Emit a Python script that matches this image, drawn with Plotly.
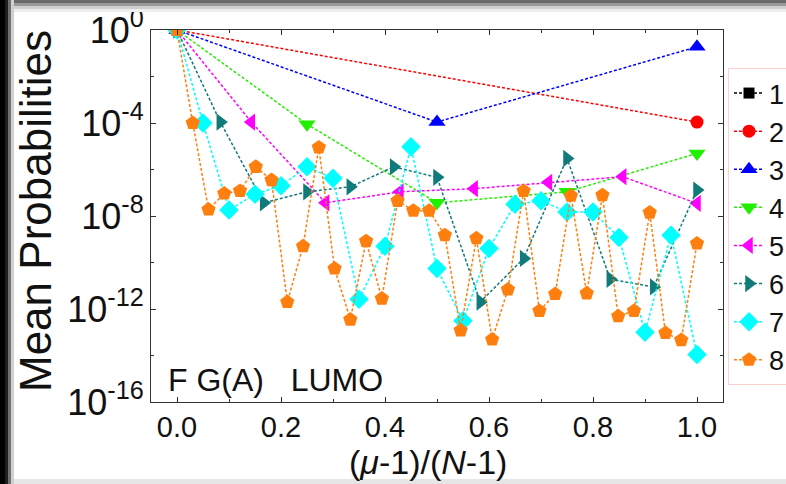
import plotly.graph_objects as go

# ---------------- data ----------------
series_names = ["1", "2", "3", "4", "5", "6", "7", "8"]

p1 = [1.0]
p2 = [1.0, 1.1e-4]
p3 = [1.0, 1.1e-4, 0.19]
p4 = [1.0, 8.9e-5, 3.7e-8, 1.1e-7, 4.9e-6]
p5 = [1.0, 1.1e-4, 3.7e-8, 1.1e-7, 1.5e-7, 2.8e-7, 4.9e-7, 3.5e-8]
p6 = [1.0, 1.1e-4, 3.7e-8, 1.1e-7, 1.8e-7, 1.3e-6, 4.6e-7, 2.0e-12,
      1.5e-10, 3.0e-6, 1.9e-11, 8.9e-12, 1.3e-7]
p7 = [1.0, 1.0e-4, 1.8e-8, 8.7e-8, 2.0e-7, 1.3e-6, 4.2e-7, 2.6e-12,
      5.0e-10, 9.5e-6, 5.5e-11, 3.1e-13, 4.0e-10, 3.2e-8, 4.5e-8,
      1.5e-8, 1.5e-8, 1.2e-9, 1.0e-13, 1.5e-9, 1.1e-14]
p8 = [1.0, 1.0e-4, 1.9e-8, 9.3e-8, 1.2e-7, 1.3e-6, 3.5e-7, 2.0e-12,
      5.0e-10, 8.9e-6, 5.5e-11, 3.5e-13, 8.3e-10, 2.8e-12, 4.5e-8,
      1.7e-8, 1.7e-8, 1.5e-9, 1.2e-13, 1.1e-9, 4.9e-14, 6.9e-12,
      1.2e-7, 8.3e-13, 4.4e-12, 7.4e-8, 4.7e-12, 7.9e-8, 4.9e-13,
      8.3e-13, 1.4e-8, 9.3e-14, 4.6e-14, 6.6e-10]

series_values = [p1, p2, p3, p4, p5, p6, p7, p8]

ytick_vals = [1e-16, 1e-12, 1e-8, 1e-4, 1]
ytick_text = ["10<sup>-16</sup>", "10<sup>-12</sup>", "10<sup>-8</sup>",
              "10<sup>-4</sup>", "10<sup>0</sup>"]
yminor_vals = [1e-14, 1e-10, 1e-6, 1e-2]
xtick_vals = [0, 0.2, 0.4, 0.6, 0.8, 1.0]
xtick_text = ["0.0", "0.2", "0.4", "0.6", "0.8", "1.0"]
xminor_vals = [0.1, 0.3, 0.5, 0.7, 0.9]

# ---------------- styles ----------------
colors = ["#000000", "#ff0000", "#0000ff", "#22ee00", "#ff00ff",
          "#117a7a", "#00ffff", "#ff7f0e"]
symbols = ["square", "circle", "triangle-up", "triangle-down",
           "triangle-left", "triangle-right", "diamond", "pentagon"]
msizes = [11, 13, 15, 15, 15, 15, 15, 15]

FONT = "Liberation Sans, Arial, sans-serif"

fig = go.Figure()
for name, vals, c, s, ms in zip(series_names, series_values, colors, symbols, msizes):
    n = len(vals)
    mu = list(range(1, n + 1))
    xs = [(m - 1) / (n - 1) if n > 1 else 0.0 for m in mu]
    fig.add_trace(go.Scatter(
        x=xs, y=vals, name=name, mode="lines+markers",
        line=dict(color=c, width=1.5, dash="3px,2px"),
        marker=dict(symbol=s, size=ms, color=c, line=dict(width=0)),
        legendgroup=name,
    ))

L, R, T, B = 151, 63, 30, 82
W, H = 786, 484
pw, ph = W - L - R, H - T - B


def px2x(px):
    return (px - L) / pw


def py2y(py):
    return (H - B - py) / ph


axis_common = dict(
    showline=True, linecolor="#333333", linewidth=1.2, mirror="allticks",
    ticks="inside", ticklen=5, tickwidth=1, tickcolor="#333333",
    showgrid=False, zeroline=False, automargin=False,
)

fig.update_xaxes(
    range=[-0.05, 1.05], tickvals=xtick_vals, ticktext=xtick_text,
    tickfont=dict(family=FONT, size=29, color="#111111"),
    ticklabelstandoff=-1,
    minor=dict(tickvals=xminor_vals, ticks="inside", ticklen=3,
               tickcolor="#333333"),
    **axis_common,
)
fig.update_yaxes(
    type="log", range=[-16, 0], tickvals=ytick_vals, ticktext=ytick_text,
    tickfont=dict(family=FONT, size=36, color="#111111"),
    ticklabelstandoff=-1,
    minor=dict(tickvals=yminor_vals, ticks="inside", ticklen=3,
               tickcolor="#333333"),
    **axis_common,
)


def band(x0, x1, y0, y1, col):
    return dict(type="rect", xref="paper", yref="paper", layer="above",
                x0=px2x(x0), x1=px2x(x1), y0=py2y(y1), y1=py2y(y0),
                fillcolor=col, line=dict(width=0))


shapes = [
    band(0, 5, 0, 484, "#000000"),
    band(5, 8, 0, 484, "#1e1e1e"),
    band(8, 11, 0, 484, "#707070"),
    band(11, 14, 0, 484, "#d0d0d0"),
    band(14, 786, 0, 3, "#6a6a6a"),
    band(14, 786, 3, 6, "#9a9a9a"),
    band(14, 786, 6, 9, "#cfcfcf"),
    band(14, 786, 9, 12, "#eeeeee"),
    band(14, 786, 479, 484, "#e6e6e6"),
]

annotations = [
    dict(text="Mean Probabilities", xref="paper", yref="paper",
         x=px2x(35), y=py2y(211), textangle=-90, showarrow=False,
         xanchor="center", yanchor="middle",
         font=dict(family=FONT, size=44, color="#111111")),
    dict(text="(<i>\u03bc</i>-1)/(<i>N</i>-1)", xref="paper", yref="paper",
         x=px2x(428), y=py2y(462), showarrow=False,
         xanchor="center", yanchor="middle",
         font=dict(family=FONT, size=34, color="#111111")),
    dict(text="F G(A)   LUMO", xref="paper", yref="paper",
         x=px2x(166), y=py2y(380), showarrow=False,
         xanchor="left", yanchor="middle",
         font=dict(family=FONT, size=32, color="#111111")),
]

fig.update_layout(
    width=W, height=H,
    margin=dict(l=L, r=R, t=T, b=B, autoexpand=False),
    paper_bgcolor="#ffffff", plot_bgcolor="#ffffff",
    showlegend=True,
    legend=dict(x=px2x(728), y=py2y(68), xanchor="left", yanchor="top",
                bgcolor="rgba(255,255,255,0)", bordercolor="#ffd0d0",
                borderwidth=1, tracegroupgap=0,
                font=dict(family=FONT, size=27, color="#111111")),
    shapes=shapes,
    annotations=annotations,
)

fig.write_html(
    "out.html",
    post_script="document.body.style.margin='0';document.body.style.overflow='hidden';",
    config={"displayModeBar": False},
)
